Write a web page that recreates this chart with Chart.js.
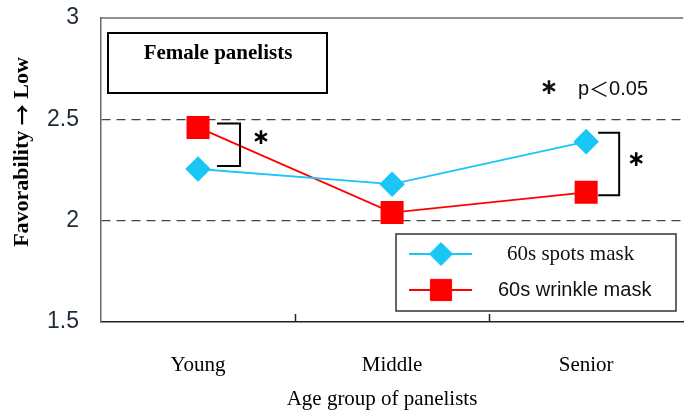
<!DOCTYPE html>
<html>
<head>
<meta charset="utf-8">
<script src="https://cdn.jsdelivr.net/npm/chart.js@4.4.1/dist/chart.umd.min.js"></script>
<style>
  html, body { margin: 0; padding: 0; background: #fff; overflow: hidden; width: 686px; height: 417px; }
  #wrap { width: 700px; height: 417px; }
</style>
</head>
<body>
<div id="wrap"><canvas id="c" width="700" height="417"></canvas></div>
<script>
// Mean favorability scores (higher = less favorable) by age group of female panelists
const ageGroups = ['Young', 'Middle', 'Senior'];
const spotsMask = [2.255, 2.18, 2.39];
const wrinkleMask = [2.46, 2.04, 2.14];
const yTickValues = [1.5, 2, 2.5, 3];
const seriesNames = ['60s spots mask', '60s wrinkle mask'];
const panelTitle = 'Female panelists';
const significanceNote = ['p', '＜', '0.05'];
const significantGroups = ['Young', 'Senior'];
const yTitleParts = ['Favorability ', '→', ' Low'];

const CYAN = '#19c6f6';
const RED = '#ff0000';
const SERIF = '"Liberation Serif", "Times New Roman", serif';
const SANS = '"Liberation Sans", Arial, sans-serif';
const CJK = '"Noto Sans CJK JP", sans-serif';
const STAR_FONT = 'bold 22px "DejaVu Sans", sans-serif';
const STAR = '∗';

// Bracket geometry per significant group: x offsets from category centre,
// y offsets from the upper / lower mark, and asterisk offsets.
const bracketStyle = {
  Young:  { x0: 19, x1: 42, top: -4, bottom: -3, starDx: 21, starDy: -6 },
  Senior: { x0: 12, x1: 33, top: -9, bottom: 3,  starDx: 17, starDy: -4 }
};

// draws a run of text pieces, each with its own font, starting at x
function drawRun(ctx, parts, fonts, x, y) {
  parts.forEach((p, i) => {
    ctx.font = fonts[i];
    ctx.fillText(p, x, y);
    x += ctx.measureText(p).width;
  });
}
function runWidth(ctx, parts, fonts) {
  return parts.reduce((w, p, i) => { ctx.font = fonts[i]; return w + ctx.measureText(p).width; }, 0);
}

const decor = {
  id: 'decor',
  afterDraw(chart) {
    const { ctx, chartArea: a, scales } = chart;
    const xs = scales.x, ys = scales.y;
    ctx.save();

    // top frame line
    ctx.strokeStyle = '#6a6a6a';
    ctx.lineWidth = 1.5;
    ctx.beginPath();
    ctx.moveTo(a.left, a.top);
    ctx.lineTo(a.right, a.top);
    ctx.stroke();

    // inward ticks between categories on the x axis
    ctx.strokeStyle = '#222';
    ctx.lineWidth = 1.5;
    for (let i = 1; i < ageGroups.length; i++) {
      const x = Math.round((xs.getPixelForValue(i - 1) + xs.getPixelForValue(i)) / 2) + 0.5;
      ctx.beginPath();
      ctx.moveTo(x, a.bottom);
      ctx.lineTo(x, a.bottom - 8);
      ctx.stroke();
    }

    // panel title box
    ctx.fillStyle = '#fff';
    ctx.fillRect(108, 33, 219, 60);
    ctx.strokeStyle = '#000';
    ctx.lineWidth = 2;
    ctx.strokeRect(108, 33, 219, 60);
    ctx.fillStyle = '#000';
    ctx.font = 'bold 21px ' + SERIF;
    ctx.textAlign = 'center';
    ctx.textBaseline = 'middle';
    ctx.fillText(panelTitle, 218, 54);

    // significance note
    ctx.fillStyle = '#111';
    ctx.font = STAR_FONT;
    ctx.textAlign = 'center';
    ctx.textBaseline = 'middle';
    ctx.fillText(STAR, 549, 88);
    ctx.textAlign = 'left';
    drawRun(ctx, significanceNote, ['20px ' + SANS, '20px ' + CJK, '20px ' + SANS], 578, 89);

    // significance brackets
    significantGroups.forEach(g => {
      const i = ageGroups.indexOf(g);
      const s = bracketStyle[g];
      const cx = xs.getPixelForValue(i);
      const p1 = ys.getPixelForValue(spotsMask[i]);
      const p2 = ys.getPixelForValue(wrinkleMask[i]);
      const top = Math.min(p1, p2) + s.top;
      const bot = Math.max(p1, p2) + s.bottom;
      ctx.strokeStyle = '#000';
      ctx.lineWidth = 2;
      ctx.beginPath();
      ctx.moveTo(cx + s.x0, top);
      ctx.lineTo(cx + s.x1, top);
      ctx.lineTo(cx + s.x1, bot);
      ctx.lineTo(cx + s.x0, bot);
      ctx.stroke();
      ctx.fillStyle = '#000';
      ctx.font = STAR_FONT;
      ctx.textAlign = 'center';
      ctx.textBaseline = 'middle';
      ctx.fillText(STAR, cx + s.x1 + s.starDx, (top + bot) / 2 + s.starDy);
    });

    // legend box
    ctx.fillStyle = '#fff';
    ctx.fillRect(396, 234, 280, 77);
    ctx.strokeStyle = '#333';
    ctx.lineWidth = 1.5;
    ctx.strokeRect(396, 234, 280, 77);
    const entries = [
      { ds: chart.data.datasets[0], y: 254, tx: 507, font: '21px ' + SERIF },
      { ds: chart.data.datasets[1], y: 290, tx: 498, font: '20px ' + SANS }
    ];
    entries.forEach(e => {
      ctx.strokeStyle = e.ds.borderColor;
      ctx.lineWidth = 2;
      ctx.beginPath();
      ctx.moveTo(409, e.y);
      ctx.lineTo(472, e.y);
      ctx.stroke();
      ctx.fillStyle = e.ds.pointBackgroundColor;
      ctx.strokeStyle = e.ds.pointBorderColor;
      ctx.lineWidth = 1;
      Chart.helpers.drawPoint(ctx, {
        pointStyle: e.ds.pointStyle, radius: e.ds.pointRadius, rotation: 0, borderWidth: 1
      }, 441, e.y);
      ctx.fillStyle = '#111';
      ctx.font = e.font;
      ctx.textAlign = 'left';
      ctx.textBaseline = 'middle';
      ctx.fillText(e.ds.label, e.tx, e.y);
    });

    // axis titles
    ctx.fillStyle = '#000';
    ctx.font = '21px ' + SERIF;
    ctx.textAlign = 'center';
    ctx.textBaseline = 'middle';
    ctx.fillText('Age group of panelists', 382, 399);

    ctx.save();
    ctx.translate(22, 152);
    ctx.rotate(-Math.PI / 2);
    const tf = ['bold 22px ' + SERIF, 'bold 21px ' + CJK, 'bold 22px ' + SERIF];
    const w = runWidth(ctx, yTitleParts, tf);
    ctx.textAlign = 'left';
    drawRun(ctx, yTitleParts, tf, -w / 2, 0);
    ctx.restore();

    ctx.restore();
  }
};

function noScalePadding(scale) {
  scale.paddingTop = 0;
  scale.paddingBottom = 0;
  scale.paddingLeft = 0;
  scale.paddingRight = 0;
}

new Chart(document.getElementById('c'), {
  type: 'line',
  data: {
    labels: ageGroups,
    datasets: [
      {
        label: seriesNames[0],
        data: spotsMask,
        borderColor: CYAN,
        backgroundColor: CYAN,
        pointBackgroundColor: CYAN,
        pointBorderColor: CYAN,
        pointStyle: 'rectRot',
        pointRadius: 11.5,
        pointHoverRadius: 11.5,
        borderWidth: 1.8,
        tension: 0
      },
      {
        label: seriesNames[1],
        data: wrinkleMask,
        borderColor: RED,
        backgroundColor: RED,
        pointBackgroundColor: RED,
        pointBorderColor: RED,
        pointStyle: 'rect',
        pointRadius: 15,
        pointHoverRadius: 15,
        borderWidth: 1.8,
        tension: 0
      }
    ]
  },
  options: {
    responsive: false,
    animation: false,
    devicePixelRatio: 1,
    layout: { padding: { top: 18, right: 11, left: 0, bottom: 0 } },
    plugins: { legend: { display: false }, tooltip: { enabled: false } },
    scales: {
      x: {
        offset: true,
        grid: { display: false },
        border: { display: true, color: '#222', width: 1.5 },
        ticks: { color: '#000', font: { family: SERIF, size: 21 }, padding: 23, maxRotation: 0 },
        afterFit(scale) { scale.height = 95; noScalePadding(scale); }
      },
      y: {
        min: 1.5,
        max: 3,
        afterBuildTicks(scale) { scale.ticks = yTickValues.map(v => ({ value: v })); },
        grid: {
          drawTicks: false,
          color: ctx => (ctx.tick && (ctx.tick.value === 2 || ctx.tick.value === 2.5)) ? '#444' : 'rgba(0,0,0,0)',
          lineWidth: 1.3
        },
        border: { display: true, color: '#6a6a6a', width: 1.5, dash: [9, 6] },
        ticks: {
          color: '#1e2a3a',
          font: { family: SANS, size: 23 },
          padding: 22,
          callback: v => String(v)
        },
        afterFit(scale) { scale.width = 101; noScalePadding(scale); }
      }
    }
  },
  plugins: [decor]
});
</script>
</body>
</html>
